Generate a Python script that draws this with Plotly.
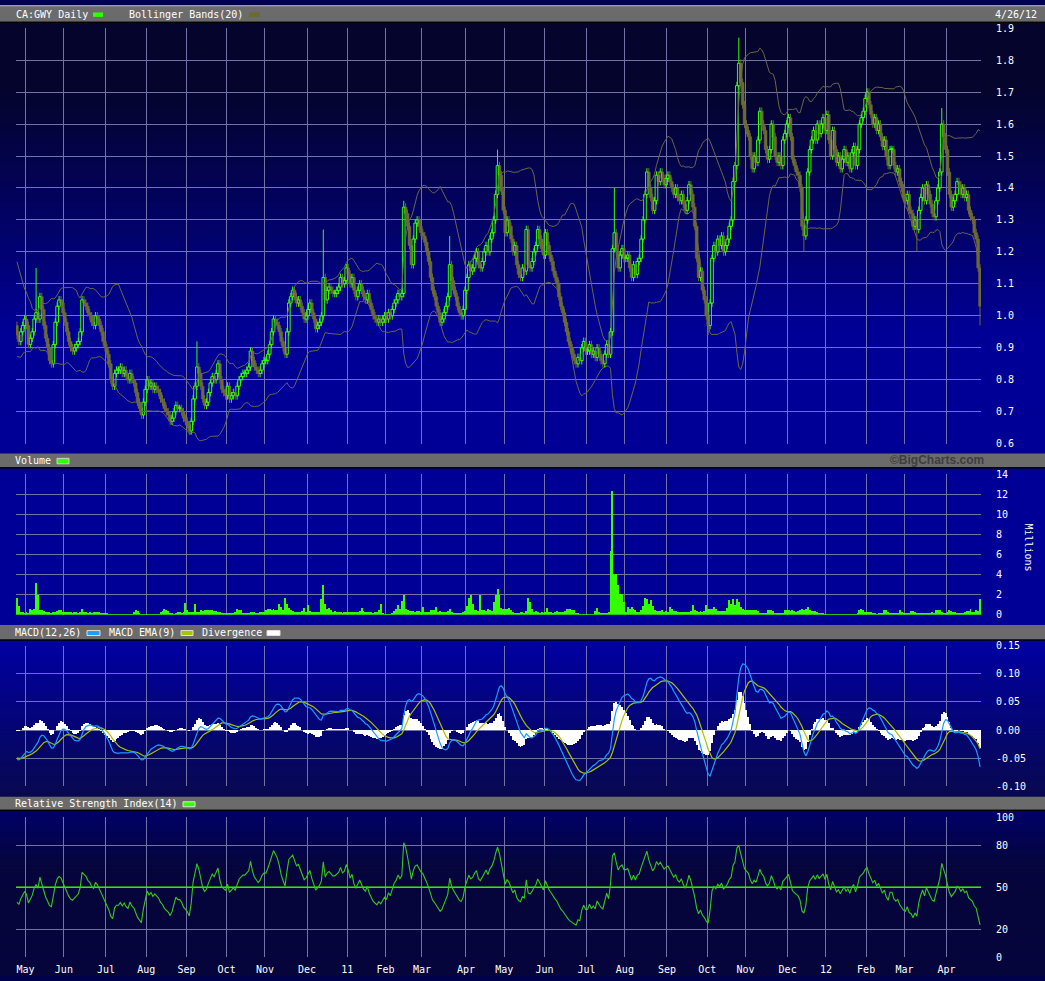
import numpy as np
import pandas as pd
import plotly.graph_objects as go

# ---------------- data ----------------
HOLIDAYS = ["2010-05-24", "2010-07-01", "2010-08-02", "2010-09-06", "2010-10-11",
            "2010-12-27", "2010-12-28", "2011-01-03", "2011-02-21", "2011-04-22",
            "2011-05-23", "2011-07-01", "2011-08-01", "2011-09-05", "2011-10-10",
            "2011-12-26", "2011-12-27", "2012-01-02", "2012-02-20", "2012-04-06"]

# closes before the visible window (indicator warm-up only, not drawn)
PRE_CLOSE = [1.24, 1.27, 1.25, 1.28, 1.26, 1.23, 1.25, 1.27, 1.24, 1.22, 1.25, 1.23, 1.21, 1.24, 1.22, 1.19, 1.22, 1.20, 1.18, 1.21,
             1.19, 1.16, 1.19, 1.17, 1.20, 1.18, 1.15, 1.17, 1.14, 1.16, 1.13, 1.16, 1.14, 1.12, 1.15, 1.13, 1.11, 1.14, 1.12, 1.16,
             1.14, 1.17, 1.12, 1.15, 1.10, 1.06, 1.09, 1.04, 1.07, 1.02, 0.98, 1.03, 0.99, 0.95, 0.98, 0.93, 0.96, 0.92, 0.95, 0.97]

CLOSE_2010 = [
    0.94, 0.92, 0.95, 0.97, 0.99,  # Apr
    0.97, 0.91, 0.93, 0.95, 0.99, 1.01, 0.99, 1.06, 1.02, 0.97, 0.93, 0.90, 0.86, 0.85, 0.91, 0.98, 1.03, 1.05, 1.04, 1.01,  # May
    0.98, 0.95, 0.92, 0.90, 0.89, 0.90, 0.91, 0.92, 0.95, 1.05, 1.04, 1.03, 1.01, 1.00, 0.98, 0.97, 1.00, 0.99, 0.97, 0.95, 0.92, 0.90,  # Jun
    0.88, 0.85, 0.80, 0.78, 0.82, 0.83, 0.83, 0.84, 0.82, 0.83, 0.81, 0.80, 0.82, 0.80, 0.79, 0.76, 0.73, 0.71, 0.69, 0.73, 0.77,  # Jul
    0.80, 0.78, 0.79, 0.77, 0.78, 0.77, 0.76, 0.74, 0.73, 0.71, 0.70, 0.69, 0.67, 0.68, 0.70, 0.72, 0.71, 0.71, 0.70, 0.68, 0.67,  # Aug
    0.66, 0.64, 0.67, 0.74, 0.78, 0.84, 0.82, 0.78, 0.74, 0.72, 0.73, 0.76, 0.79, 0.81, 0.80, 0.82, 0.85, 0.80, 0.77, 0.76, 0.75,  # Sep
    0.78, 0.74, 0.75, 0.76, 0.75, 0.78, 0.80, 0.81, 0.82, 0.82, 0.83, 0.84, 0.89, 0.86, 0.84, 0.83, 0.82, 0.83, 0.85, 0.86,  # Oct
    0.86, 0.88, 0.91, 0.95, 0.99, 0.98, 0.97, 0.95, 0.92, 0.90, 0.88, 0.95, 1.04, 1.06, 1.08, 1.06, 1.04, 1.05, 1.03, 1.01, 0.99, 1.00,  # Nov
    1.02, 1.04, 1.01, 0.99, 0.96, 0.97, 0.98, 1.00, 1.12, 1.05, 1.08, 1.09, 1.08, 1.07, 1.07, 1.08, 1.09, 1.12, 1.10, 1.11, 1.15,  # Dec
]
CLOSE_2011 = [
    1.13, 1.10, 1.12, 1.08, 1.06, 1.08, 1.10, 1.08, 1.06, 1.05, 1.07, 1.04, 1.02, 1.00, 0.99, 0.98, 0.99, 0.98, 0.99, 1.00,  # Jan
    0.99, 1.01, 1.00, 1.02, 1.04, 1.05, 1.07, 1.06, 1.07, 1.34, 1.32, 1.28, 1.22, 1.16, 1.24, 1.29, 1.30, 1.28, 1.26,  # Feb
    1.25, 1.23, 1.20, 1.17, 1.12, 1.08, 1.06, 1.03, 1.01, 0.98, 0.99, 1.01, 1.03, 1.06, 1.16, 1.11, 1.08, 1.06, 1.03, 1.01, 1.00, 1.02, 1.08,  # Mar
    1.12, 1.16, 1.14, 1.15, 1.18, 1.20, 1.16, 1.15, 1.17, 1.20, 1.22, 1.20, 1.24, 1.26, 1.30, 1.38, 1.47, 1.44, 1.39, 1.33,  # Apr
    1.26, 1.30, 1.28, 1.24, 1.20, 1.22, 1.16, 1.13, 1.12, 1.15, 1.14, 1.27, 1.16, 1.15, 1.17, 1.20, 1.22, 1.27, 1.24, 1.21, 1.19,  # May
    1.26, 1.22, 1.19, 1.17, 1.14, 1.12, 1.10, 1.06, 1.03, 1.01, 0.98, 0.95, 0.92, 0.90, 0.88, 0.86, 0.85, 0.87, 0.86, 0.90, 0.92, 0.89,  # Jun
    0.89, 0.91, 0.88, 0.89, 0.87, 0.90, 0.88, 0.86, 0.85, 0.88, 0.91, 0.88, 0.95, 1.21, 1.26, 1.20, 1.15, 1.19, 1.21, 1.18,  # Jul
    1.18, 1.19, 1.15, 1.12, 1.16, 1.13, 1.17, 1.18, 1.24, 1.30, 1.38, 1.45, 1.40, 1.37, 1.33, 1.36, 1.44, 1.42, 1.45, 1.43, 1.41, 1.43,  # Aug
    1.44, 1.42, 1.40, 1.38, 1.40, 1.37, 1.36, 1.38, 1.35, 1.33, 1.36, 1.41, 1.38, 1.34, 1.28, 1.18, 1.12, 1.14, 1.08, 1.05, 1.00,  # Sep
    0.97, 1.04, 1.18, 1.22, 1.20, 1.24, 1.22, 1.25, 1.20, 1.22, 1.24, 1.28, 1.30, 1.42, 1.47, 1.72, 1.79, 1.73, 1.66, 1.60,  # Oct
    1.58, 1.56, 1.50, 1.46, 1.50, 1.48, 1.55, 1.64, 1.60, 1.58, 1.52, 1.49, 1.52, 1.60, 1.56, 1.50, 1.48, 1.50, 1.47, 1.55, 1.57, 1.60,  # Nov
    1.62, 1.56, 1.49, 1.47, 1.45, 1.44, 1.40, 1.28, 1.25, 1.30, 1.45, 1.52, 1.55, 1.58, 1.55, 1.60, 1.57, 1.60, 1.62, 1.58,  # Dec
]
CLOSE_2012 = [
    1.63, 1.55, 1.50, 1.58, 1.52, 1.48, 1.50, 1.46, 1.49, 1.52, 1.48, 1.50, 1.46, 1.51, 1.53, 1.47, 1.52, 1.60, 1.62, 1.64, 1.68,  # Jan
    1.70, 1.66, 1.63, 1.60, 1.62, 1.58, 1.60, 1.56, 1.53, 1.55, 1.50, 1.47, 1.52, 1.52, 1.47, 1.45, 1.46, 1.42, 1.40, 1.37,  # Feb
    1.36, 1.38, 1.33, 1.32, 1.28, 1.30, 1.27, 1.33, 1.37, 1.40, 1.36, 1.41, 1.38, 1.35, 1.32, 1.31, 1.36, 1.40, 1.45, 1.60, 1.56, 1.52,  # Mar
    1.45, 1.38, 1.34, 1.36, 1.38, 1.42, 1.41, 1.38, 1.40, 1.37, 1.38, 1.33, 1.31, 1.30, 1.26, 1.24, 1.15, 1.03,  # Apr
]

# notable intraday extremes (bar index -> price)
HIGH_WICKS = {10: 1.15, 94: 0.92, 160: 1.27, 202: 1.36, 226: 1.25, 251: 1.52,
              312: 1.40, 377: 1.87, 483: 1.65}
LOW_WICKS = {90: 0.627, 361: 0.94, 411: 1.20, 470: 1.20, 503: 0.97}

# volume, millions
VOLUME_2010 = [
    1.7, 0.9, 0.3, 0.25, 0.2,
    0.3, 0.2, 0.6, 0.5, 0.6, 3.2, 2.0, 0.45, 0.5, 0.4, 0.3, 0.3, 0.25, 0.2, 0.3, 0.25, 0.4, 0.5, 0.5, 0.3,
    0.3, 0.25, 0.3, 0.25, 0.2, 0.3, 0.25, 0.2, 0.3, 0.6, 0.3, 0.25, 0.2, 0.25, 0.2, 0.3, 0.25, 0.3, 0.25, 0.2, 0.15, 0.2,
    0.15, 0.1, 0.08, 0.07, 0.07, 0.06, 0.07, 0.06, 0.07, 0.06, 0.07, 0.06, 0.07, 0.1, 0.3, 0.45, 0.35, 0.15, 0.06, 0.05, 0.06,
    0.06, 0.05, 0.06, 0.05, 0.06, 0.07, 0.1, 0.25, 0.35, 0.6, 0.5, 0.35, 0.2, 0.15, 0.1, 0.15, 0.3, 0.25, 0.2, 0.3, 1.2,
    0.45, 0.3, 0.25, 0.3, 1.1, 0.3, 0.25, 0.45, 0.4, 0.5, 0.5, 0.5, 0.45, 0.5, 0.4, 0.35, 0.3, 0.3, 0.2, 0.15, 0.15,
    0.15, 0.12, 0.15, 0.2, 0.3, 0.6, 0.5, 0.45, 0.15, 0.15, 0.15, 0.12, 0.25, 0.3, 0.25, 0.2, 0.15, 0.3, 0.25, 0.3,
    0.5, 0.55, 0.55, 0.5, 0.55, 0.5, 0.45, 1.1, 0.8, 0.5, 1.7, 1.1, 0.7, 0.45, 0.35, 0.3, 0.3, 0.25, 0.3, 0.35, 0.7, 0.3,
    1.0, 0.4, 0.3, 0.25, 0.25, 0.3, 0.25, 1.6, 3.0, 1.1, 0.6, 0.7, 0.5, 0.3, 0.35, 0.25, 0.3, 0.25, 0.2, 0.25, 0.3,
]
VOLUME_2011 = [
    0.25, 0.3, 0.25, 0.3, 0.25, 0.3, 0.4, 0.65, 0.35, 0.25, 0.3, 0.25, 0.3, 0.2, 0.25, 0.3, 0.45, 1.1, 0.2, 0.1,
    0.08, 0.1, 0.1, 0.15, 0.35, 0.6, 1.0, 0.6, 1.4, 2.0, 0.6, 0.45, 0.35, 0.4, 0.35, 0.3, 0.35, 0.4, 0.3,
    0.75, 0.3, 0.25, 0.3, 0.45, 0.5, 0.45, 0.8, 0.3, 0.35, 0.3, 0.25, 0.3, 0.35, 0.6, 0.3, 0.2, 0.15, 0.2, 0.15, 0.2, 0.25, 0.35,
    0.9, 1.7, 2.0, 1.1, 0.5, 0.45, 0.4, 2.0, 0.5, 0.45, 0.4, 0.6, 0.5, 0.4, 1.3, 2.0, 2.6, 2.0, 0.7, 0.6,
    0.6, 0.6, 0.65, 0.5, 0.3, 0.2, 0.15, 0.15, 0.3, 0.25, 0.2, 0.4, 1.7, 1.25, 0.6, 0.3, 0.35, 0.3, 0.2, 0.25, 0.2,
    0.25, 0.65, 0.3, 0.25, 0.2, 0.25, 0.35, 0.3, 0.25, 0.3, 0.4, 0.55, 0.6, 0.6, 0.5, 0.45, 0.2, 0.15, 0.1, 0.06, 0.05, 0.04,
    0.04, 0.03, 0.03, 0.03, 0.35, 0.65, 0.3, 0.2, 0.15, 0.15, 0.2, 0.25, 6.4, 12.4, 4.1, 4.1, 3.0, 2.1, 2.1, 1.25,
    0.3, 0.75, 0.6, 0.75, 0.6, 0.45, 0.3, 0.3, 0.45, 0.9, 1.7, 1.6, 1.1, 1.5, 0.9, 0.5, 0.35, 0.4, 0.35, 0.45, 0.3, 0.35,
    0.3, 0.75, 0.6, 0.4, 0.35, 0.3, 0.25, 0.3, 0.25, 0.3, 0.25, 0.3, 0.4, 1.0, 0.5, 0.35, 0.3, 0.35, 0.3, 0.4, 1.0,
    0.6, 0.6, 0.6, 0.75, 0.6, 0.4, 0.35, 0.35, 0.4, 0.35, 0.7, 1.5, 1.1, 1.6, 1.0, 1.6, 1.3, 0.75, 0.6, 0.5,
    0.5, 0.45, 0.5, 0.45, 0.5, 0.45, 0.4, 0.2, 0.15, 0.15, 0.2, 0.45, 0.5, 0.45, 0.4, 0.15, 0.15, 0.2, 0.15, 0.15, 0.45, 0.45,
    0.45, 0.4, 0.45, 0.4, 0.3, 0.35, 0.5, 0.6, 0.45, 0.6, 0.75, 0.5, 0.35, 0.35, 0.4, 0.3, 0.2, 0.2, 0.15, 0.1,
]
VOLUME_2012 = [
    0.08, 0.07, 0.07, 0.06, 0.07, 0.08, 0.07, 0.06, 0.07, 0.08, 0.07, 0.07, 0.06, 0.08, 0.07, 0.1, 0.2, 0.45, 0.6, 0.45, 0.3,
    0.25, 0.3, 0.25, 0.2, 0.15, 0.1, 0.12, 0.15, 0.2, 0.45, 0.45, 0.3, 0.15, 0.12, 0.15, 0.12, 0.15, 0.45, 0.3, 0.15,
    0.12, 0.15, 0.2, 0.35, 0.35, 0.3, 0.2, 0.15, 0.2, 0.15, 0.2, 0.2, 0.15, 0.2, 0.25, 0.2, 0.45, 0.45, 0.45, 0.3, 0.2, 0.15,
    0.25, 0.45, 0.4, 0.3, 0.25, 0.15, 0.2, 0.15, 0.2, 0.25, 0.35, 0.35, 0.6, 0.3, 0.3, 0.5, 0.4, 1.6,
]

PRICE_TICKS = [0.6, 0.7, 0.8, 0.9, 1.0, 1.1, 1.2, 1.3, 1.4, 1.5, 1.6, 1.7, 1.8, 1.9]
VOLUME_TICKS = [0, 2, 4, 6, 8, 10, 12, 14]
MACD_TICKS = [-0.10, -0.05, 0.0, 0.05, 0.10, 0.15]
RSI_TICKS = [0, 20, 50, 80, 100]

# ---------------- derived series ----------------
CLOSE = CLOSE_2010 + CLOSE_2011 + CLOSE_2012
VOLUME = VOLUME_2010 + VOLUME_2011 + VOLUME_2012
dates = pd.bdate_range("2010-04-26", "2012-04-26")
dates = dates[~dates.isin(pd.to_datetime(HOLIDAYS))]
N = min(len(dates), len(CLOSE))
dates = dates[:N]
close = np.array(CLOSE[:N], dtype=float)
vol = np.array((VOLUME + [0.2] * N)[:N], dtype=float)
idx = np.arange(N)

open_ = np.concatenate([[PRE_CLOSE[-1]], close[:-1]])
body_lo = np.minimum(open_, close)
body_hi = np.maximum(open_, close)
high = body_hi + 0.012
low = body_lo - 0.012
for k, v in HIGH_WICKS.items():
    if k < N:
        high[k] = max(high[k], v)
for k, v in LOW_WICKS.items():
    if k < N:
        low[k] = min(low[k], v)
up = close >= open_

full = pd.Series(PRE_CLOSE + list(close))
P = len(PRE_CLOSE)
ma20 = full.rolling(20).mean()
sd20 = full.rolling(20).std(ddof=0)
bb_up = (ma20 + 2 * sd20).values[P:]
bb_lo = (ma20 - 2 * sd20).values[P:]
ema12 = full.ewm(span=12, adjust=False).mean()
ema26 = full.ewm(span=26, adjust=False).mean()
macd = ema12 - ema26
signal = macd.ewm(span=9, adjust=False).mean()
diverg = (macd - signal).values[P:]
macd_v = macd.values[P:]
signal_v = signal.values[P:]
delta = full.diff().fillna(0)
gain = delta.clip(lower=0).ewm(alpha=1 / 14, adjust=False).mean()
loss = (-delta.clip(upper=0)).ewm(alpha=1 / 14, adjust=False).mean()
rsi = (100 - 100 / (1 + gain / loss.replace(0, 1e-9))).values[P:]

# month boundaries for gridlines / labels
tickvals, ticktext = [], []
for k in range(1, N):
    if dates[k].month != dates[k - 1].month:
        tickvals.append(k - 0.5)
        ticktext.append(dates[k].strftime("%y") if dates[k].month == 1 else dates[k].strftime("%b"))

# ---------------- styling ----------------
W, H = 1045, 981
GREEN = "#33ff00"
OLIVE = "#6e6a36"
BAND = "#6c6648"
GRID = "#7272a6"
STRIP = "#6b6b6b"
FONT = "DejaVu Sans Mono"


def fx(x):
    return x / W


def fy(y):
    return 1 - y / H


XDOM = [fx(16), fx(981)]
XRANGE = [-0.5, N - 0.5]

fig = go.Figure()

# ----- price panel -----
seg_x, seg_y = [], []
for i in idx[up]:
    seg_x += [i, i, None, i, i, None]
    seg_y += [body_hi[i], high[i], None, low[i], body_lo[i], None]
dn_x, dn_y = [], []
for i in idx[~up]:
    dn_x += [i, i, None]
    dn_y += [low[i], high[i], None]

fig.add_trace(go.Scatter(x=idx, y=bb_up, mode="lines", line=dict(color=BAND, width=1),
                         xaxis="x", yaxis="y", hoverinfo="skip"))
fig.add_trace(go.Scatter(x=idx, y=bb_lo, mode="lines", line=dict(color=BAND, width=1),
                         xaxis="x", yaxis="y", hoverinfo="skip"))
fig.add_trace(go.Scatter(x=dn_x, y=dn_y, mode="lines", line=dict(color=OLIVE, width=1),
                         xaxis="x", yaxis="y", hoverinfo="skip"))
fig.add_trace(go.Scatter(x=seg_x, y=seg_y, mode="lines", line=dict(color=GREEN, width=1),
                         xaxis="x", yaxis="y", hoverinfo="skip"))
hgt = np.maximum(body_hi - body_lo, 0.004)
fig.add_trace(go.Bar(x=idx[~up], y=hgt[~up], base=body_lo[~up], width=1.5,
                     marker=dict(color=OLIVE, line=dict(color=OLIVE, width=0.5)),
                     xaxis="x", yaxis="y", hoverinfo="skip"))
fig.add_trace(go.Bar(x=idx[up], y=hgt[up], base=body_lo[up], width=1.4,
                     marker=dict(color="rgba(0,0,0,0)", line=dict(color=GREEN, width=1)),
                     xaxis="x", yaxis="y", hoverinfo="skip"))

# ----- volume panel -----
fig.add_trace(go.Bar(x=idx, y=vol, width=1.0, marker=dict(color=GREEN, line=dict(width=0)),
                     xaxis="x2", yaxis="y2", hoverinfo="skip"))

# ----- MACD panel -----
fig.add_trace(go.Bar(x=idx, y=diverg, width=1.0, marker=dict(color="white", line=dict(width=0)),
                     xaxis="x3", yaxis="y3", hoverinfo="skip"))
fig.add_trace(go.Scatter(x=idx, y=signal_v, mode="lines", line=dict(color="#a6c400", width=1.2),
                         xaxis="x3", yaxis="y3", hoverinfo="skip"))
fig.add_trace(go.Scatter(x=idx, y=macd_v, mode="lines", line=dict(color="#1f9bff", width=1.2),
                         xaxis="x3", yaxis="y3", hoverinfo="skip"))

# ----- RSI panel -----
fig.add_trace(go.Scatter(x=[XRANGE[0], XRANGE[1]], y=[50, 50], mode="lines",
                         line=dict(color=GREEN, width=1.3), xaxis="x4", yaxis="y4", hoverinfo="skip"))
fig.add_trace(go.Scatter(x=idx, y=rsi, mode="lines", line=dict(color="#36c81a", width=1.1),
                         xaxis="x4", yaxis="y4", hoverinfo="skip"))

# ---------------- backgrounds ----------------
shapes = []


def rect(y0, y1, color, x0=0, x1=W, line=None):
    d = dict(type="rect", xref="paper", yref="paper", x0=fx(x0), x1=fx(x1),
             y0=fy(y1), y1=fy(y0), fillcolor=color, layer="below", line=dict(width=0))
    if line:
        d["line"] = line
    shapes.append(d)


def grad(y0, y1, f, n):
    for k in range(n):
        a = y0 + (y1 - y0) * k / n
        b = y0 + (y1 - y0) * (k + 1) / n + 0.6
        r, g, bl = f((a + b) / 2)
        rect(a, b, "rgb(%d,%d,%d)" % (r, g, bl))


def lerp(c0, c1, t):
    t = min(max(t, 0), 1)
    return tuple(int(round(c0[j] + (c1[j] - c0[j]) * t)) for j in range(3))


grad(17, 453, lambda y: lerp((4, 4, 44), (0, 0, 150), (y - 85) / 245), 60)
rect(468, 627, "rgb(0,0,150)")
grad(641, 801, lambda y: lerp((0, 0, 162), (8, 8, 82), (y - 645) / 150), 30)
grad(813, 981, lambda y: lerp((0, 0, 104), (5, 5, 60), (y - 815) / 55), 30)

# grey title strips
for (a, b) in [(0, 17), (453, 467), (626.5, 641), (800, 813)]:
    rect(a, b, STRIP)
    rect(b, b + 1.2, "#000000")
rect(0, 1.5, "#9a9a9a")

# legend swatches
swatches = [
    (93, 103, 7.5, 12, GREEN, None),
    (249, 260, 7.5, 12, "#6b6b30", None),
    (57, 69, 458, 463.5, GREEN, "#d0d0d0"),
    (87, 100, 632, 637, "#1f9bff", "#e0e0e0"),
    (181, 193, 632, 637, "#a6c400", "#e0e0e0"),
    (267, 280, 632, 637, "#ffffff", "#e0e0e0"),
    (183, 195, 805, 810, GREEN, "#e0e0e0"),
]
for x0, x1, y0, y1, c, lc in swatches:
    shapes.append(dict(type="rect", xref="paper", yref="paper", x0=fx(x0), x1=fx(x1),
                       y0=fy(y1), y1=fy(y0), fillcolor=c, layer="above",
                       line=dict(width=1 if lc else 0, color=lc or c)))

# ---------------- text ----------------
ann = []


def text(x, y, s, anchor="left", size=10, color="white", family=FONT, angle=0):
    ann.append(dict(x=fx(x), y=fy(y), xref="paper", yref="paper", text=s, showarrow=False,
                    xanchor=anchor, yanchor="middle", textangle=angle,
                    font=dict(family=family, size=size, color=color), borderpad=0))


text(15, 9.5, "CA:GWY Daily")
text(128, 9.5, "Bollinger Bands(20)")
text(1038, 9.5, "4/26/12", anchor="right")
text(14, 460, "Volume")
text(985, 460, "<b>©BigCharts.com</b>", anchor="right", size=12, color="#3e3e3e",
     family="Liberation Sans")
text(14, 634, "MACD(12,26)")
text(108, 634, "MACD EMA(9)")
text(201, 634, "Divergence")
text(14, 807, "Relative Strength Index(14)")
text(1029, 548, "Millions", anchor="center", angle=90)

# ---------------- axes ----------------
axfont = dict(family=FONT, size=10, color="white")


def xax(anchor, labels=False):
    return dict(domain=XDOM, range=XRANGE, anchor=anchor, tickmode="array", tickvals=tickvals,
                ticktext=ticktext, showticklabels=labels, showgrid=True, gridcolor=GRID,
                gridwidth=1, zeroline=False, showline=False,
                ticks="outside" if labels else "", ticklen=3, tickcolor="rgba(0,0,0,0)",
                tickfont=axfont, fixedrange=True)


def yax(anchor, dom, rng, vals, txt):
    return dict(domain=dom, range=rng, anchor=anchor, side="right", tickmode="array",
                tickvals=vals, ticktext=txt, showgrid=True, gridcolor=GRID, gridwidth=1,
                zeroline=False, showline=False, ticks="outside", ticklen=12,
                tickcolor="rgba(0,0,0,0)", tickfont=axfont, fixedrange=True)


layout = dict(
    width=W, height=H, autosize=False,
    margin=dict(l=0, r=0, t=0, b=0, pad=0),
    paper_bgcolor="#000050", plot_bgcolor="rgba(0,0,0,0)",
    showlegend=False, barmode="overlay", bargap=0,
    shapes=shapes, annotations=ann,
    xaxis=xax("y"), xaxis2=xax("y2"), xaxis3=xax("y3"), xaxis4=xax("y4", labels=True),
    yaxis=yax("x", [fy(443.3), fy(23.3)], [0.5998, 1.9002], PRICE_TICKS,
              ["%.1f" % v for v in PRICE_TICKS]),
    yaxis2=yax("x2", [fy(616), fy(474.3)], [-0.02, 14.02], VOLUME_TICKS,
               [str(v) for v in VOLUME_TICKS]),
    yaxis3=yax("x3", [fy(789.3), fy(647.3)], [-0.1002, 0.1502], MACD_TICKS,
               ["%.2f" % v for v in MACD_TICKS]),
    yaxis4=yax("x4", [fy(962.3), fy(820.3)], [-0.1, 100.1], RSI_TICKS,
               [str(v) for v in RSI_TICKS]),
)
fig.update_layout(**layout)
fig.write_html(
    "out.html",
    config={"displayModeBar": False, "staticPlot": True},
    post_script=(
        "document.documentElement.style.margin='0px';"
        "document.documentElement.style.overflow='hidden';"
        "document.body.style.margin='0px';document.body.style.padding='0px';"
        "document.body.style.overflow='hidden';"
        "document.body.style.background='#000050';"
        "var gd=document.getElementById('{plot_id}');"
        "gd.style.position='fixed';gd.style.left='0px';gd.style.top='0px';"
    ),
)
